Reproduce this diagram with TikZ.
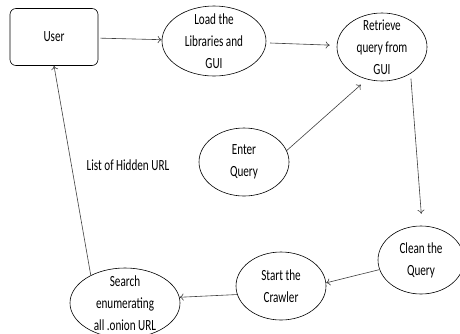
\documentclass[tikz,border=0pt]{standalone}
\usepackage{fontspec}
\setmainfont{Carlito}[FakeStretch=0.72]
\usetikzlibrary{shapes.geometric, arrows.meta}
\usetikzlibrary{positioning}

\begin{document}
\begin{tikzpicture}[x=1pt, y=-1pt, font=\fontsize{15.5}{22}\selectfont,
	blob/.style={draw, ellipse, align=center, inner xsep=0pt, inner ysep=-5pt, line width=0.6pt},
	flow/.style={-{To[length=4pt, width=7pt]}, line width=0.6pt, black!75}]
	\useasboundingbox[fill=white] (0,0) rectangle (460,333);
	\node [draw, rounded corners=6pt, line width=0.6pt, minimum width=88pt, minimum height=57pt] (0) at (54, 37) {User};
	\node [blob, minimum width=104pt, minimum height=70pt] (1) at (214, 41) {Load the\\Libraries and\\GUI};
	\node [blob, minimum width=90pt, minimum height=68pt] (2) at (382, 47) {Retrieve\\query from\\GUI};
	\node [blob, minimum width=90pt, minimum height=68pt] (3) at (244, 162) {Enter\\Query};
	\node [blob, minimum width=86pt, minimum height=68pt] (4) at (421, 260) {Clean the\\Query};
	\node [blob, minimum width=90pt, minimum height=68pt] (5) at (281, 286) {Start the\\Crawler};
	\node [blob, minimum width=110pt, minimum height=70pt] (6) at (125, 303) {Search\\enumerating\\all .onion URL};
	\node (7) at (128, 165) {List of Hidden URL};
	\draw [flow, shorten <=2pt] (0) -- (1);
	\draw [flow, shorten <=4pt, shorten >=7pt] (1) -- (2);
	\draw [flow, shorten >=8pt] (3.15) -- (2.-115);
	\draw [flow, shorten <=5pt, shorten >=12pt] (2.-43) -- (4.88);
	\draw [flow] (4.193) -- (5.4);
	\draw [flow] (5.191) -- (6.6);
	\draw [flow] (6.141) -- (0.south);
\end{tikzpicture}
\end{document}
